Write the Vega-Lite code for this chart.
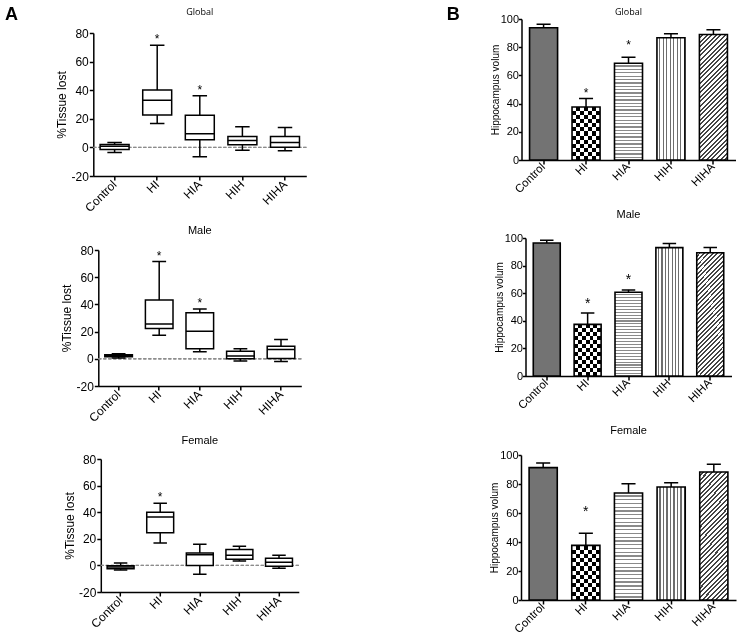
{
  "$schema": "https://vega.github.io/schema/vega-lite/v6.json",
  "background": "white",
  "padding": {"left": 4, "right": 4, "top": 6, "bottom": 2},
  "config": {
    "view": {"stroke": null},
    "font": "Liberation Sans",
    "axis": {"domainColor": "black", "tickColor": "black", "domainWidth": 1.5, "tickWidth": 1.5, "tickSize": 5, "labelColor": "black", "titleColor": "black", "labelFont": "Liberation Sans", "titleFont": "Liberation Sans", "titleFontWeight": "normal", "grid": false, "labelFontSize": 12, "labelOverlap": false},
    "axisY": {"tickSize": 3, "labelPadding": 0, "titlePadding": 0},
    "title": {"fontWeight": "normal", "font": "Liberation Sans", "fontSize": 11, "color": "black"}
  },
  "params": [
    {"name": "gHIv", "value": {"gradient": "linear", "x1": 0, "y1": 0, "x2": 1, "y2": 0, "stops": [
      {"offset": 0, "color": "#000"}, {"offset": 0.1429, "color": "#000"}, {"offset": 0.1429, "color": "#fff"}, {"offset": 0.2857, "color": "#fff"},
      {"offset": 0.2857, "color": "#000"}, {"offset": 0.4286, "color": "#000"}, {"offset": 0.4286, "color": "#fff"}, {"offset": 0.5714, "color": "#fff"},
      {"offset": 0.5714, "color": "#000"}, {"offset": 0.7143, "color": "#000"}, {"offset": 0.7143, "color": "#fff"}, {"offset": 0.8571, "color": "#fff"},
      {"offset": 0.8571, "color": "#000"}, {"offset": 1, "color": "#000"}]}},
    {"name": "gHIh", "value": {"gradient": "linear", "x1": 0, "y1": 0, "x2": 0, "y2": 1, "stops": [
      {"offset": 0, "color": "#fff"}, {"offset": 0.0769, "color": "#fff"}, {"offset": 0.0769, "color": "rgba(255,255,255,0)"}, {"offset": 0.1538, "color": "rgba(255,255,255,0)"},
      {"offset": 0.1538, "color": "#fff"}, {"offset": 0.2308, "color": "#fff"}, {"offset": 0.2308, "color": "rgba(255,255,255,0)"}, {"offset": 0.3077, "color": "rgba(255,255,255,0)"},
      {"offset": 0.3077, "color": "#fff"}, {"offset": 0.3846, "color": "#fff"}, {"offset": 0.3846, "color": "rgba(255,255,255,0)"}, {"offset": 0.4615, "color": "rgba(255,255,255,0)"},
      {"offset": 0.4615, "color": "#fff"}, {"offset": 0.5385, "color": "#fff"}, {"offset": 0.5385, "color": "rgba(255,255,255,0)"}, {"offset": 0.6154, "color": "rgba(255,255,255,0)"},
      {"offset": 0.6154, "color": "#fff"}, {"offset": 0.6923, "color": "#fff"}, {"offset": 0.6923, "color": "rgba(255,255,255,0)"}, {"offset": 0.7692, "color": "rgba(255,255,255,0)"},
      {"offset": 0.7692, "color": "#fff"}, {"offset": 0.8462, "color": "#fff"}, {"offset": 0.8462, "color": "rgba(255,255,255,0)"}, {"offset": 0.9231, "color": "rgba(255,255,255,0)"},
      {"offset": 0.9231, "color": "#fff"}, {"offset": 1, "color": "#fff"}]}},
    {"name": "gHIA", "value": {"gradient": "linear", "x1": 0, "y1": 0, "x2": 0, "y2": 1, "stops": [
      {"offset": 0, "color": "#fff"}, {"offset": 0.022, "color": "#fff"}, {"offset": 0.022, "color": "#8a8a8a"}, {"offset": 0.035, "color": "#8a8a8a"},
      {"offset": 0.035, "color": "#fff"}, {"offset": 0.057, "color": "#fff"}, {"offset": 0.057, "color": "#8a8a8a"}, {"offset": 0.07, "color": "#8a8a8a"},
      {"offset": 0.07, "color": "#fff"}, {"offset": 0.092, "color": "#fff"}, {"offset": 0.092, "color": "#8a8a8a"}, {"offset": 0.105, "color": "#8a8a8a"},
      {"offset": 0.105, "color": "#fff"}, {"offset": 0.127, "color": "#fff"}, {"offset": 0.127, "color": "#8a8a8a"}, {"offset": 0.14, "color": "#8a8a8a"},
      {"offset": 0.14, "color": "#fff"}, {"offset": 0.162, "color": "#fff"}, {"offset": 0.162, "color": "#8a8a8a"}, {"offset": 0.175, "color": "#8a8a8a"},
      {"offset": 0.175, "color": "#fff"}, {"offset": 0.197, "color": "#fff"}, {"offset": 0.197, "color": "#8a8a8a"}, {"offset": 0.21, "color": "#8a8a8a"},
      {"offset": 0.21, "color": "#fff"}, {"offset": 0.232, "color": "#fff"}, {"offset": 0.232, "color": "#8a8a8a"}, {"offset": 0.245, "color": "#8a8a8a"},
      {"offset": 0.245, "color": "#fff"}, {"offset": 0.267, "color": "#fff"}, {"offset": 0.267, "color": "#8a8a8a"}, {"offset": 0.28, "color": "#8a8a8a"},
      {"offset": 0.28, "color": "#fff"}, {"offset": 0.302, "color": "#fff"}, {"offset": 0.302, "color": "#8a8a8a"}, {"offset": 0.315, "color": "#8a8a8a"},
      {"offset": 0.315, "color": "#fff"}, {"offset": 0.337, "color": "#fff"}, {"offset": 0.337, "color": "#8a8a8a"}, {"offset": 0.35, "color": "#8a8a8a"},
      {"offset": 0.35, "color": "#fff"}, {"offset": 0.372, "color": "#fff"}, {"offset": 0.372, "color": "#8a8a8a"}, {"offset": 0.385, "color": "#8a8a8a"},
      {"offset": 0.385, "color": "#fff"}, {"offset": 0.407, "color": "#fff"}, {"offset": 0.407, "color": "#8a8a8a"}, {"offset": 0.42, "color": "#8a8a8a"},
      {"offset": 0.42, "color": "#fff"}, {"offset": 0.442, "color": "#fff"}, {"offset": 0.442, "color": "#8a8a8a"}, {"offset": 0.455, "color": "#8a8a8a"},
      {"offset": 0.455, "color": "#fff"}, {"offset": 0.477, "color": "#fff"}, {"offset": 0.477, "color": "#8a8a8a"}, {"offset": 0.49, "color": "#8a8a8a"},
      {"offset": 0.49, "color": "#fff"}, {"offset": 0.512, "color": "#fff"}, {"offset": 0.512, "color": "#8a8a8a"}, {"offset": 0.525, "color": "#8a8a8a"},
      {"offset": 0.525, "color": "#fff"}, {"offset": 0.547, "color": "#fff"}, {"offset": 0.547, "color": "#8a8a8a"}, {"offset": 0.56, "color": "#8a8a8a"},
      {"offset": 0.56, "color": "#fff"}, {"offset": 0.582, "color": "#fff"}, {"offset": 0.582, "color": "#8a8a8a"}, {"offset": 0.595, "color": "#8a8a8a"},
      {"offset": 0.595, "color": "#fff"}, {"offset": 0.617, "color": "#fff"}, {"offset": 0.617, "color": "#8a8a8a"}, {"offset": 0.63, "color": "#8a8a8a"},
      {"offset": 0.63, "color": "#fff"}, {"offset": 0.652, "color": "#fff"}, {"offset": 0.652, "color": "#8a8a8a"}, {"offset": 0.665, "color": "#8a8a8a"},
      {"offset": 0.665, "color": "#fff"}, {"offset": 0.687, "color": "#fff"}, {"offset": 0.687, "color": "#8a8a8a"}, {"offset": 0.7, "color": "#8a8a8a"},
      {"offset": 0.7, "color": "#fff"}, {"offset": 0.722, "color": "#fff"}, {"offset": 0.722, "color": "#8a8a8a"}, {"offset": 0.735, "color": "#8a8a8a"},
      {"offset": 0.735, "color": "#fff"}, {"offset": 0.757, "color": "#fff"}, {"offset": 0.757, "color": "#8a8a8a"}, {"offset": 0.77, "color": "#8a8a8a"},
      {"offset": 0.77, "color": "#fff"}, {"offset": 0.792, "color": "#fff"}, {"offset": 0.792, "color": "#8a8a8a"}, {"offset": 0.805, "color": "#8a8a8a"},
      {"offset": 0.805, "color": "#fff"}, {"offset": 0.827, "color": "#fff"}, {"offset": 0.827, "color": "#8a8a8a"}, {"offset": 0.84, "color": "#8a8a8a"},
      {"offset": 0.84, "color": "#fff"}, {"offset": 0.862, "color": "#fff"}, {"offset": 0.862, "color": "#8a8a8a"}, {"offset": 0.875, "color": "#8a8a8a"},
      {"offset": 0.875, "color": "#fff"}, {"offset": 0.897, "color": "#fff"}, {"offset": 0.897, "color": "#8a8a8a"}, {"offset": 0.91, "color": "#8a8a8a"},
      {"offset": 0.91, "color": "#fff"}, {"offset": 0.932, "color": "#fff"}, {"offset": 0.932, "color": "#8a8a8a"}, {"offset": 0.945, "color": "#8a8a8a"},
      {"offset": 0.945, "color": "#fff"}, {"offset": 0.967, "color": "#fff"}, {"offset": 0.967, "color": "#8a8a8a"}, {"offset": 0.98, "color": "#8a8a8a"},
      {"offset": 0.98, "color": "#fff"}, {"offset": 1, "color": "#fff"}]}},
    {"name": "gHIH", "value": {"gradient": "linear", "x1": 0, "y1": 0, "x2": 1, "y2": 0, "stops": [
      {"offset": 0, "color": "#fff"}, {"offset": 0.08, "color": "#fff"}, {"offset": 0.08, "color": "#6e6e6e"}, {"offset": 0.125, "color": "#6e6e6e"},
      {"offset": 0.125, "color": "#fff"}, {"offset": 0.205, "color": "#fff"}, {"offset": 0.205, "color": "#6e6e6e"}, {"offset": 0.25, "color": "#6e6e6e"},
      {"offset": 0.25, "color": "#fff"}, {"offset": 0.33, "color": "#fff"}, {"offset": 0.33, "color": "#6e6e6e"}, {"offset": 0.375, "color": "#6e6e6e"},
      {"offset": 0.375, "color": "#fff"}, {"offset": 0.455, "color": "#fff"}, {"offset": 0.455, "color": "#6e6e6e"}, {"offset": 0.5, "color": "#6e6e6e"},
      {"offset": 0.5, "color": "#fff"}, {"offset": 0.58, "color": "#fff"}, {"offset": 0.58, "color": "#6e6e6e"}, {"offset": 0.625, "color": "#6e6e6e"},
      {"offset": 0.625, "color": "#fff"}, {"offset": 0.705, "color": "#fff"}, {"offset": 0.705, "color": "#6e6e6e"}, {"offset": 0.75, "color": "#6e6e6e"},
      {"offset": 0.75, "color": "#fff"}, {"offset": 0.83, "color": "#fff"}, {"offset": 0.83, "color": "#6e6e6e"}, {"offset": 0.875, "color": "#6e6e6e"},
      {"offset": 0.875, "color": "#fff"}, {"offset": 0.955, "color": "#fff"}, {"offset": 0.955, "color": "#6e6e6e"}, {"offset": 1, "color": "#6e6e6e"}]}},
    {"name": "gHIHA", "value": {"gradient": "linear", "x1": 0, "y1": 0, "x2": 0.26, "y2": 1.164, "stops": [
      {"offset": 0, "color": "#fff"}, {"offset": 0.017, "color": "#fff"}, {"offset": 0.017, "color": "#444"}, {"offset": 0.03, "color": "#444"},
      {"offset": 0.03, "color": "#fff"}, {"offset": 0.047, "color": "#fff"}, {"offset": 0.047, "color": "#444"}, {"offset": 0.06, "color": "#444"},
      {"offset": 0.06, "color": "#fff"}, {"offset": 0.077, "color": "#fff"}, {"offset": 0.077, "color": "#444"}, {"offset": 0.09, "color": "#444"},
      {"offset": 0.09, "color": "#fff"}, {"offset": 0.107, "color": "#fff"}, {"offset": 0.107, "color": "#444"}, {"offset": 0.12, "color": "#444"},
      {"offset": 0.12, "color": "#fff"}, {"offset": 0.137, "color": "#fff"}, {"offset": 0.137, "color": "#444"}, {"offset": 0.15, "color": "#444"},
      {"offset": 0.15, "color": "#fff"}, {"offset": 0.167, "color": "#fff"}, {"offset": 0.167, "color": "#444"}, {"offset": 0.18, "color": "#444"},
      {"offset": 0.18, "color": "#fff"}, {"offset": 0.197, "color": "#fff"}, {"offset": 0.197, "color": "#444"}, {"offset": 0.21, "color": "#444"},
      {"offset": 0.21, "color": "#fff"}, {"offset": 0.227, "color": "#fff"}, {"offset": 0.227, "color": "#444"}, {"offset": 0.24, "color": "#444"},
      {"offset": 0.24, "color": "#fff"}, {"offset": 0.257, "color": "#fff"}, {"offset": 0.257, "color": "#444"}, {"offset": 0.27, "color": "#444"},
      {"offset": 0.27, "color": "#fff"}, {"offset": 0.287, "color": "#fff"}, {"offset": 0.287, "color": "#444"}, {"offset": 0.3, "color": "#444"},
      {"offset": 0.3, "color": "#fff"}, {"offset": 0.317, "color": "#fff"}, {"offset": 0.317, "color": "#444"}, {"offset": 0.33, "color": "#444"},
      {"offset": 0.33, "color": "#fff"}, {"offset": 0.347, "color": "#fff"}, {"offset": 0.347, "color": "#444"}, {"offset": 0.36, "color": "#444"},
      {"offset": 0.36, "color": "#fff"}, {"offset": 0.377, "color": "#fff"}, {"offset": 0.377, "color": "#444"}, {"offset": 0.39, "color": "#444"},
      {"offset": 0.39, "color": "#fff"}, {"offset": 0.407, "color": "#fff"}, {"offset": 0.407, "color": "#444"}, {"offset": 0.42, "color": "#444"},
      {"offset": 0.42, "color": "#fff"}, {"offset": 0.437, "color": "#fff"}, {"offset": 0.437, "color": "#444"}, {"offset": 0.45, "color": "#444"},
      {"offset": 0.45, "color": "#fff"}, {"offset": 0.467, "color": "#fff"}, {"offset": 0.467, "color": "#444"}, {"offset": 0.48, "color": "#444"},
      {"offset": 0.48, "color": "#fff"}, {"offset": 0.497, "color": "#fff"}, {"offset": 0.497, "color": "#444"}, {"offset": 0.51, "color": "#444"},
      {"offset": 0.51, "color": "#fff"}, {"offset": 0.527, "color": "#fff"}, {"offset": 0.527, "color": "#444"}, {"offset": 0.54, "color": "#444"},
      {"offset": 0.54, "color": "#fff"}, {"offset": 0.557, "color": "#fff"}, {"offset": 0.557, "color": "#444"}, {"offset": 0.57, "color": "#444"},
      {"offset": 0.57, "color": "#fff"}, {"offset": 0.587, "color": "#fff"}, {"offset": 0.587, "color": "#444"}, {"offset": 0.6, "color": "#444"},
      {"offset": 0.6, "color": "#fff"}, {"offset": 0.617, "color": "#fff"}, {"offset": 0.617, "color": "#444"}, {"offset": 0.63, "color": "#444"},
      {"offset": 0.63, "color": "#fff"}, {"offset": 0.647, "color": "#fff"}, {"offset": 0.647, "color": "#444"}, {"offset": 0.66, "color": "#444"},
      {"offset": 0.66, "color": "#fff"}, {"offset": 0.677, "color": "#fff"}, {"offset": 0.677, "color": "#444"}, {"offset": 0.69, "color": "#444"},
      {"offset": 0.69, "color": "#fff"}, {"offset": 0.707, "color": "#fff"}, {"offset": 0.707, "color": "#444"}, {"offset": 0.72, "color": "#444"},
      {"offset": 0.72, "color": "#fff"}, {"offset": 0.737, "color": "#fff"}, {"offset": 0.737, "color": "#444"}, {"offset": 0.75, "color": "#444"},
      {"offset": 0.75, "color": "#fff"}, {"offset": 0.767, "color": "#fff"}, {"offset": 0.767, "color": "#444"}, {"offset": 0.78, "color": "#444"},
      {"offset": 0.78, "color": "#fff"}, {"offset": 0.797, "color": "#fff"}, {"offset": 0.797, "color": "#444"}, {"offset": 0.81, "color": "#444"},
      {"offset": 0.81, "color": "#fff"}, {"offset": 0.827, "color": "#fff"}, {"offset": 0.827, "color": "#444"}, {"offset": 0.84, "color": "#444"},
      {"offset": 0.84, "color": "#fff"}, {"offset": 0.857, "color": "#fff"}, {"offset": 0.857, "color": "#444"}, {"offset": 0.87, "color": "#444"},
      {"offset": 0.87, "color": "#fff"}, {"offset": 0.887, "color": "#fff"}, {"offset": 0.887, "color": "#444"}, {"offset": 0.9, "color": "#444"},
      {"offset": 0.9, "color": "#fff"}, {"offset": 0.917, "color": "#fff"}, {"offset": 0.917, "color": "#444"}, {"offset": 0.93, "color": "#444"},
      {"offset": 0.93, "color": "#fff"}, {"offset": 0.947, "color": "#fff"}, {"offset": 0.947, "color": "#444"}, {"offset": 0.96, "color": "#444"},
      {"offset": 0.96, "color": "#fff"}, {"offset": 0.977, "color": "#fff"}, {"offset": 0.977, "color": "#444"}, {"offset": 0.99, "color": "#444"},
      {"offset": 0.99, "color": "#fff"}, {"offset": 1, "color": "#fff"}]}}
  ],
  "datasets": {
    "tissue": [
      {"sex": "Global", "group": "Control", "min": -3.5, "q1": -1.5, "median": 0.8, "q3": 2.0, "max": 3.4, "sig": false},
      {"sex": "Global", "group": "HI", "min": 16.8, "q1": 22.6, "median": 32.9, "q3": 40.1, "max": 71.5, "sig": true},
      {"sex": "Global", "group": "HIA", "min": -6.6, "q1": 5.3, "median": 9.5, "q3": 22.4, "max": 36.2, "sig": true},
      {"sex": "Global", "group": "HIH", "min": -2.0, "q1": 1.8, "median": 4.8, "q3": 7.6, "max": 14.4, "sig": false},
      {"sex": "Global", "group": "HIHA", "min": -2.4, "q1": 0.1, "median": 3.4, "q3": 7.6, "max": 14.0, "sig": false},
      {"sex": "Male", "group": "Control", "min": 0.5, "q1": 1.5, "median": 2.2, "q3": 3.0, "max": 3.8, "sig": false},
      {"sex": "Male", "group": "HI", "min": 17.3, "q1": 22.2, "median": 25.6, "q3": 43.2, "max": 71.5, "sig": true},
      {"sex": "Male", "group": "HIA", "min": 5.1, "q1": 7.3, "median": 20.2, "q3": 33.9, "max": 36.6, "sig": true},
      {"sex": "Male", "group": "HIH", "min": -1.7, "q1": 0.0, "median": 2.0, "q3": 5.6, "max": 7.3, "sig": false},
      {"sex": "Male", "group": "HIHA", "min": -2.0, "q1": 0.2, "median": 6.8, "q3": 9.3, "max": 14.1, "sig": false},
      {"sex": "Female", "group": "Control", "min": -3.5, "q1": -2.5, "median": -1.2, "q3": -0.2, "max": 1.8, "sig": false},
      {"sex": "Female", "group": "HI", "min": 16.9, "q1": 24.5, "median": 36.3, "q3": 40.0, "max": 46.8, "sig": true},
      {"sex": "Female", "group": "HIA", "min": -6.7, "q1": 0.0, "median": 8.1, "q3": 9.4, "max": 15.9, "sig": false},
      {"sex": "Female", "group": "HIH", "min": 3.4, "q1": 4.6, "median": 7.6, "q3": 11.9, "max": 14.4, "sig": false},
      {"sex": "Female", "group": "HIHA", "min": -2.2, "q1": -0.6, "median": 2.4, "q3": 5.4, "max": 7.6, "sig": false}
    ],
    "volume": [
      {"sex": "Global", "group": "Control", "mean": 93.8, "upper": 96.2, "star": null},
      {"sex": "Global", "group": "HI", "mean": 37.6, "upper": 43.6, "star": 49.5},
      {"sex": "Global", "group": "HIA", "mean": 68.6, "upper": 72.9, "star": 83.8},
      {"sex": "Global", "group": "HIH", "mean": 86.7, "upper": 89.5, "star": null},
      {"sex": "Global", "group": "HIHA", "mean": 89.0, "upper": 92.4, "star": null},
      {"sex": "Male", "group": "Control", "mean": 96.4, "upper": 98.3, "star": null},
      {"sex": "Male", "group": "HI", "mean": 37.4, "upper": 45.6, "star": 54.6},
      {"sex": "Male", "group": "HIA", "mean": 60.7, "upper": 62.4, "star": 71.4},
      {"sex": "Male", "group": "HIH", "mean": 93.0, "upper": 96.1, "star": null},
      {"sex": "Male", "group": "HIHA", "mean": 89.3, "upper": 93.2, "star": null},
      {"sex": "Female", "group": "Control", "mean": 91.3, "upper": 94.5, "star": null},
      {"sex": "Female", "group": "HI", "mean": 37.7, "upper": 46.0, "star": 62.5},
      {"sex": "Female", "group": "HIA", "mean": 73.8, "upper": 80.2, "star": null},
      {"sex": "Female", "group": "HIH", "mean": 77.9, "upper": 80.9, "star": null},
      {"sex": "Female", "group": "HIHA", "mean": 88.3, "upper": 93.6, "star": null}
    ]
  },
  "spacing": 139,
  "hconcat": [
    {
      "title": {"text": "A", "anchor": "start", "fontSize": 18, "fontWeight": "bold", "offset": -16, "dx": -51},
      "spacing": 11,
      "center": true,
      "vconcat": [
        {
          "title": {"text": "Global", "fontSize": 9, "font": "Open Sans", "offset": 2},
          "width": 213, "height": 157,
          "data": {"name": "tissue"},
          "transform": [{"filter": "datum.sex === 'Global'"}],
          "layer": [
            {"mark": {"type": "rule", "strokeDash": [3, 2], "color": "#8c8c8c", "strokeWidth": 0.8}, "encoding": {"y": {"datum": 0, "type": "quantitative", "scale": {"domain": [-20, 80], "nice": false, "rangeMax": 14}, "axis": {"title": "%Tissue lost", "titleFontSize": 12, "values": [-20, 0, 20, 40, 60, 80], "tickCount": 6, "labelExpr": "datum.value", "labelFontSize": 12, "labelOverlap": false, "tickSize": 4, "labelPadding": 1, "titlePadding": 2}}}},
            {"mark": {"type": "rule", "color": "black", "strokeWidth": 1.5}, "encoding": {"x": {"field": "group", "type": "nominal", "sort": ["Control", "HI", "HIA", "HIH", "HIHA"], "scale": {"paddingInner": 0.32, "paddingOuter": 0.16}, "axis": {"title": null, "labelAngle": -45, "labelAlign": "right", "labelBaseline": "middle", "labelPadding": 2, "tickSize": 4}}, "y": {"field": "min", "type": "quantitative", "axis": {"title": "%Tissue lost", "titleFontSize": 12, "values": [-20, 0, 20, 40, 60, 80], "tickCount": 6, "labelExpr": "datum.value", "labelFontSize": 12, "labelOverlap": false, "tickSize": 4, "labelPadding": 1, "titlePadding": 2}}, "y2": {"field": "max"}}},
            {"mark": {"type": "bar", "fill": "white", "stroke": "black", "strokeWidth": 1.5}, "encoding": {"x": {"field": "group", "type": "nominal", "sort": ["Control", "HI", "HIA", "HIH", "HIHA"]}, "y": {"field": "q1", "type": "quantitative"}, "y2": {"field": "q3"}}},
            {"mark": {"type": "bar", "fillOpacity": 0, "stroke": "black", "strokeWidth": 1.5}, "encoding": {"x": {"field": "group", "type": "nominal", "sort": ["Control", "HI", "HIA", "HIH", "HIHA"]}, "y": {"field": "median", "type": "quantitative"}, "y2": {"field": "median"}}},
            {"mark": {"type": "bar", "fillOpacity": 0, "stroke": "black", "strokeWidth": 1.5, "width": {"band": 0.5}}, "encoding": {"x": {"field": "group", "type": "nominal", "sort": ["Control", "HI", "HIA", "HIH", "HIHA"]}, "y": {"field": "max", "type": "quantitative"}, "y2": {"field": "max"}}},
            {"mark": {"type": "bar", "fillOpacity": 0, "stroke": "black", "strokeWidth": 1.5, "width": {"band": 0.5}}, "encoding": {"x": {"field": "group", "type": "nominal", "sort": ["Control", "HI", "HIA", "HIH", "HIHA"]}, "y": {"field": "min", "type": "quantitative"}, "y2": {"field": "min"}}},
            {"transform": [{"filter": "datum.sig"}], "mark": {"type": "text", "text": "*", "fontSize": 12, "baseline": "middle", "dy": -6, "color": "black"}, "encoding": {"x": {"field": "group", "type": "nominal", "sort": ["Control", "HI", "HIA", "HIH", "HIHA"]}, "y": {"field": "max", "type": "quantitative"}}}
          ]
        },
        {
          "title": {"text": "Male", "fontSize": 11, "offset": 8},
          "width": 203, "height": 136,
          "data": {"name": "tissue"},
          "transform": [{"filter": "datum.sex === 'Male'"}],
          "layer": [
            {"mark": {"type": "rule", "strokeDash": [3, 2], "color": "#8c8c8c", "strokeWidth": 0.8}, "encoding": {"y": {"datum": 0, "type": "quantitative", "scale": {"domain": [-20, 80], "nice": false}, "axis": {"title": "%Tissue lost", "titleFontSize": 12, "values": [-20, 0, 20, 40, 60, 80], "tickCount": 6, "labelExpr": "datum.value", "labelFontSize": 12, "labelOverlap": false, "tickSize": 4, "labelPadding": 1, "titlePadding": 2}}}},
            {"mark": {"type": "rule", "color": "black", "strokeWidth": 1.5}, "encoding": {"x": {"field": "group", "type": "nominal", "sort": ["Control", "HI", "HIA", "HIH", "HIHA"], "scale": {"paddingInner": 0.32, "paddingOuter": 0.16}, "axis": {"title": null, "labelAngle": -45, "labelAlign": "right", "labelBaseline": "middle", "labelPadding": 2, "tickSize": 4}}, "y": {"field": "min", "type": "quantitative", "axis": {"title": "%Tissue lost", "titleFontSize": 12, "values": [-20, 0, 20, 40, 60, 80], "tickCount": 6, "labelExpr": "datum.value", "labelFontSize": 12, "labelOverlap": false, "tickSize": 4, "labelPadding": 1, "titlePadding": 2}}, "y2": {"field": "max"}}},
            {"mark": {"type": "bar", "fill": "white", "stroke": "black", "strokeWidth": 1.5}, "encoding": {"x": {"field": "group", "type": "nominal", "sort": ["Control", "HI", "HIA", "HIH", "HIHA"]}, "y": {"field": "q1", "type": "quantitative"}, "y2": {"field": "q3"}}},
            {"mark": {"type": "bar", "fillOpacity": 0, "stroke": "black", "strokeWidth": 1.5}, "encoding": {"x": {"field": "group", "type": "nominal", "sort": ["Control", "HI", "HIA", "HIH", "HIHA"]}, "y": {"field": "median", "type": "quantitative"}, "y2": {"field": "median"}}},
            {"mark": {"type": "bar", "fillOpacity": 0, "stroke": "black", "strokeWidth": 1.5, "width": {"band": 0.5}}, "encoding": {"x": {"field": "group", "type": "nominal", "sort": ["Control", "HI", "HIA", "HIH", "HIHA"]}, "y": {"field": "max", "type": "quantitative"}, "y2": {"field": "max"}}},
            {"mark": {"type": "bar", "fillOpacity": 0, "stroke": "black", "strokeWidth": 1.5, "width": {"band": 0.5}}, "encoding": {"x": {"field": "group", "type": "nominal", "sort": ["Control", "HI", "HIA", "HIH", "HIHA"]}, "y": {"field": "min", "type": "quantitative"}, "y2": {"field": "min"}}},
            {"transform": [{"filter": "datum.sig"}], "mark": {"type": "text", "text": "*", "fontSize": 12, "baseline": "middle", "dy": -6, "color": "black"}, "encoding": {"x": {"field": "group", "type": "nominal", "sort": ["Control", "HI", "HIA", "HIH", "HIHA"]}, "y": {"field": "max", "type": "quantitative"}}}
          ]
        },
        {
          "title": {"text": "Female", "fontSize": 11, "offset": 7},
          "width": 198, "height": 133,
          "data": {"name": "tissue"},
          "transform": [{"filter": "datum.sex === 'Female'"}],
          "layer": [
            {"mark": {"type": "rule", "strokeDash": [3, 2], "color": "#8c8c8c", "strokeWidth": 0.8}, "encoding": {"y": {"datum": 0, "type": "quantitative", "scale": {"domain": [-20, 80], "nice": false}, "axis": {"title": "%Tissue lost", "titleFontSize": 12, "values": [-20, 0, 20, 40, 60, 80], "tickCount": 6, "labelExpr": "datum.value", "labelFontSize": 12, "labelOverlap": false, "tickSize": 4, "labelPadding": 1, "titlePadding": 2}}}},
            {"mark": {"type": "rule", "color": "black", "strokeWidth": 1.5}, "encoding": {"x": {"field": "group", "type": "nominal", "sort": ["Control", "HI", "HIA", "HIH", "HIHA"], "scale": {"paddingInner": 0.32, "paddingOuter": 0.16}, "axis": {"title": null, "labelAngle": -45, "labelAlign": "right", "labelBaseline": "middle", "labelPadding": 2, "tickSize": 4}}, "y": {"field": "min", "type": "quantitative", "axis": {"title": "%Tissue lost", "titleFontSize": 12, "values": [-20, 0, 20, 40, 60, 80], "tickCount": 6, "labelExpr": "datum.value", "labelFontSize": 12, "labelOverlap": false, "tickSize": 4, "labelPadding": 1, "titlePadding": 2}}, "y2": {"field": "max"}}},
            {"mark": {"type": "bar", "fill": "white", "stroke": "black", "strokeWidth": 1.5}, "encoding": {"x": {"field": "group", "type": "nominal", "sort": ["Control", "HI", "HIA", "HIH", "HIHA"]}, "y": {"field": "q1", "type": "quantitative"}, "y2": {"field": "q3"}}},
            {"mark": {"type": "bar", "fillOpacity": 0, "stroke": "black", "strokeWidth": 1.5}, "encoding": {"x": {"field": "group", "type": "nominal", "sort": ["Control", "HI", "HIA", "HIH", "HIHA"]}, "y": {"field": "median", "type": "quantitative"}, "y2": {"field": "median"}}},
            {"mark": {"type": "bar", "fillOpacity": 0, "stroke": "black", "strokeWidth": 1.5, "width": {"band": 0.5}}, "encoding": {"x": {"field": "group", "type": "nominal", "sort": ["Control", "HI", "HIA", "HIH", "HIHA"]}, "y": {"field": "max", "type": "quantitative"}, "y2": {"field": "max"}}},
            {"mark": {"type": "bar", "fillOpacity": 0, "stroke": "black", "strokeWidth": 1.5, "width": {"band": 0.5}}, "encoding": {"x": {"field": "group", "type": "nominal", "sort": ["Control", "HI", "HIA", "HIH", "HIHA"]}, "y": {"field": "min", "type": "quantitative"}, "y2": {"field": "min"}}},
            {"transform": [{"filter": "datum.sig"}], "mark": {"type": "text", "text": "*", "fontSize": 12, "baseline": "middle", "dy": -6, "color": "black"}, "encoding": {"x": {"field": "group", "type": "nominal", "sort": ["Control", "HI", "HIA", "HIH", "HIHA"]}, "y": {"field": "max", "type": "quantitative"}}}
          ]
        }
      ]
    },
    {
      "title": {"text": "B", "anchor": "start", "fontSize": 18, "fontWeight": "bold", "offset": -16, "dx": -43},
      "spacing": 13,
      "center": true,
      "vconcat": [
        {
          "title": {"text": "Global", "fontSize": 9, "font": "Open Sans", "offset": -4},
          "width": 214, "height": 141,
          "data": {"name": "volume"},
          "transform": [{"filter": "datum.sex === 'Global'"}],
          "encoding": {"x": {"field": "group", "type": "nominal", "sort": ["Control", "HI", "HIA", "HIH", "HIHA"], "scale": {"paddingInner": 0.34, "paddingOuter": 0.19}, "axis": {"title": null, "labelAngle": -45, "labelAlign": "right", "labelBaseline": "middle", "labelPadding": 1, "tickSize": 4, "labelFontSize": 11.5}}},
          "layer": [
            {"mark": {"type": "bar", "strokeWidth": 0}, "encoding": {"y": {"field": "mean", "type": "quantitative", "scale": {"domain": [0, 100], "nice": false}, "axis": {"title": "Hippocampus volum", "titleFontSize": 10, "values": [0, 20, 40, 60, 80, 100], "tickCount": 6, "labelFontSize": 11, "labelOverlap": false, "tickSize": 3, "labelPadding": 0, "titlePadding": 0}}, "fill": {"value": {"expr": "datum.group === 'Control' ? '#737373' : datum.group === 'HI' ? gHIv : datum.group === 'HIA' ? gHIA : datum.group === 'HIH' ? gHIH : gHIHA"}}}},
            {"transform": [{"filter": "datum.group === 'HI'"}], "mark": {"type": "bar", "strokeWidth": 0, "fill": {"expr": "gHIh"}, "blend": "difference"}, "encoding": {"y": {"field": "mean", "type": "quantitative", "axis": {"title": "Hippocampus volum", "titleFontSize": 10, "values": [0, 20, 40, 60, 80, 100], "tickCount": 6, "labelFontSize": 11, "labelOverlap": false, "tickSize": 3, "labelPadding": 0, "titlePadding": 0}}}},
            {"mark": {"type": "bar", "fillOpacity": 0, "stroke": "black", "strokeWidth": 1.6}, "encoding": {"y": {"field": "mean", "type": "quantitative", "axis": {"title": "Hippocampus volum", "titleFontSize": 10, "values": [0, 20, 40, 60, 80, 100], "tickCount": 6, "labelFontSize": 11, "labelOverlap": false, "tickSize": 3, "labelPadding": 0, "titlePadding": 0}}}},
            {"mark": {"type": "rule", "color": "black", "strokeWidth": 1.5}, "encoding": {"y": {"field": "mean", "type": "quantitative", "axis": {"title": "Hippocampus volum", "titleFontSize": 10, "values": [0, 20, 40, 60, 80, 100], "tickCount": 6, "labelFontSize": 11, "labelOverlap": false, "tickSize": 3, "labelPadding": 0, "titlePadding": 0}}, "y2": {"field": "upper"}}},
            {"mark": {"type": "bar", "fillOpacity": 0, "stroke": "black", "strokeWidth": 1.5, "width": {"band": 0.5}}, "encoding": {"y": {"field": "upper", "type": "quantitative", "axis": {"title": "Hippocampus volum", "titleFontSize": 10, "values": [0, 20, 40, 60, 80, 100], "tickCount": 6, "labelFontSize": 11, "labelOverlap": false, "tickSize": 3, "labelPadding": 0, "titlePadding": 0}}, "y2": {"field": "upper"}}},
            {"transform": [{"filter": "datum.star != null"}], "mark": {"type": "text", "text": "*", "fontSize": 12, "baseline": "middle", "dy": 3, "color": "black"}, "encoding": {"y": {"field": "star", "type": "quantitative", "axis": {"title": "Hippocampus volum", "titleFontSize": 10, "values": [0, 20, 40, 60, 80, 100], "tickCount": 6, "labelFontSize": 11, "labelOverlap": false, "tickSize": 3, "labelPadding": 0, "titlePadding": 0}}}}
          ]
        },
        {
          "title": {"text": "Male", "fontSize": 11, "offset": 12},
          "width": 206, "height": 138,
          "data": {"name": "volume"},
          "transform": [{"filter": "datum.sex === 'Male'"}],
          "encoding": {"x": {"field": "group", "type": "nominal", "sort": ["Control", "HI", "HIA", "HIH", "HIHA"], "scale": {"paddingInner": 0.34, "paddingOuter": 0.19}, "axis": {"title": null, "labelAngle": -45, "labelAlign": "right", "labelBaseline": "middle", "labelPadding": 1, "tickSize": 4, "labelFontSize": 11.5}}},
          "layer": [
            {"mark": {"type": "bar", "strokeWidth": 0}, "encoding": {"y": {"field": "mean", "type": "quantitative", "scale": {"domain": [0, 100], "nice": false}, "axis": {"title": "Hippocampus volum", "titleFontSize": 10, "values": [0, 20, 40, 60, 80, 100], "tickCount": 6, "labelFontSize": 11, "labelOverlap": false, "tickSize": 3, "labelPadding": 0, "titlePadding": 0}}, "fill": {"value": {"expr": "datum.group === 'Control' ? '#737373' : datum.group === 'HI' ? gHIv : datum.group === 'HIA' ? gHIA : datum.group === 'HIH' ? gHIH : gHIHA"}}}},
            {"transform": [{"filter": "datum.group === 'HI'"}], "mark": {"type": "bar", "strokeWidth": 0, "fill": {"expr": "gHIh"}, "blend": "difference"}, "encoding": {"y": {"field": "mean", "type": "quantitative", "axis": {"title": "Hippocampus volum", "titleFontSize": 10, "values": [0, 20, 40, 60, 80, 100], "tickCount": 6, "labelFontSize": 11, "labelOverlap": false, "tickSize": 3, "labelPadding": 0, "titlePadding": 0}}}},
            {"mark": {"type": "bar", "fillOpacity": 0, "stroke": "black", "strokeWidth": 1.6}, "encoding": {"y": {"field": "mean", "type": "quantitative", "axis": {"title": "Hippocampus volum", "titleFontSize": 10, "values": [0, 20, 40, 60, 80, 100], "tickCount": 6, "labelFontSize": 11, "labelOverlap": false, "tickSize": 3, "labelPadding": 0, "titlePadding": 0}}}},
            {"mark": {"type": "rule", "color": "black", "strokeWidth": 1.5}, "encoding": {"y": {"field": "mean", "type": "quantitative", "axis": {"title": "Hippocampus volum", "titleFontSize": 10, "values": [0, 20, 40, 60, 80, 100], "tickCount": 6, "labelFontSize": 11, "labelOverlap": false, "tickSize": 3, "labelPadding": 0, "titlePadding": 0}}, "y2": {"field": "upper"}}},
            {"mark": {"type": "bar", "fillOpacity": 0, "stroke": "black", "strokeWidth": 1.5, "width": {"band": 0.5}}, "encoding": {"y": {"field": "upper", "type": "quantitative", "axis": {"title": "Hippocampus volum", "titleFontSize": 10, "values": [0, 20, 40, 60, 80, 100], "tickCount": 6, "labelFontSize": 11, "labelOverlap": false, "tickSize": 3, "labelPadding": 0, "titlePadding": 0}}, "y2": {"field": "upper"}}},
            {"transform": [{"filter": "datum.star != null"}], "mark": {"type": "text", "text": "*", "fontSize": 14, "baseline": "middle", "dy": 3, "color": "black"}, "encoding": {"y": {"field": "star", "type": "quantitative", "axis": {"title": "Hippocampus volum", "titleFontSize": 10, "values": [0, 20, 40, 60, 80, 100], "tickCount": 6, "labelFontSize": 11, "labelOverlap": false, "tickSize": 3, "labelPadding": 0, "titlePadding": 0}}}}
          ]
        },
        {
          "title": {"text": "Female", "fontSize": 11, "offset": 13},
          "width": 215, "height": 145,
          "data": {"name": "volume"},
          "transform": [{"filter": "datum.sex === 'Female'"}],
          "encoding": {"x": {"field": "group", "type": "nominal", "sort": ["Control", "HI", "HIA", "HIH", "HIHA"], "scale": {"paddingInner": 0.34, "paddingOuter": 0.19}, "axis": {"title": null, "labelAngle": -45, "labelAlign": "right", "labelBaseline": "middle", "labelPadding": 1, "tickSize": 4, "labelFontSize": 11.5}}},
          "layer": [
            {"mark": {"type": "bar", "strokeWidth": 0}, "encoding": {"y": {"field": "mean", "type": "quantitative", "scale": {"domain": [0, 100], "nice": false}, "axis": {"title": "Hippocampus volum", "titleFontSize": 10, "values": [0, 20, 40, 60, 80, 100], "tickCount": 6, "labelFontSize": 11, "labelOverlap": false, "tickSize": 3, "labelPadding": 0, "titlePadding": 0}}, "fill": {"value": {"expr": "datum.group === 'Control' ? '#737373' : datum.group === 'HI' ? gHIv : datum.group === 'HIA' ? gHIA : datum.group === 'HIH' ? gHIH : gHIHA"}}}},
            {"transform": [{"filter": "datum.group === 'HI'"}], "mark": {"type": "bar", "strokeWidth": 0, "fill": {"expr": "gHIh"}, "blend": "difference"}, "encoding": {"y": {"field": "mean", "type": "quantitative", "axis": {"title": "Hippocampus volum", "titleFontSize": 10, "values": [0, 20, 40, 60, 80, 100], "tickCount": 6, "labelFontSize": 11, "labelOverlap": false, "tickSize": 3, "labelPadding": 0, "titlePadding": 0}}}},
            {"mark": {"type": "bar", "fillOpacity": 0, "stroke": "black", "strokeWidth": 1.6}, "encoding": {"y": {"field": "mean", "type": "quantitative", "axis": {"title": "Hippocampus volum", "titleFontSize": 10, "values": [0, 20, 40, 60, 80, 100], "tickCount": 6, "labelFontSize": 11, "labelOverlap": false, "tickSize": 3, "labelPadding": 0, "titlePadding": 0}}}},
            {"mark": {"type": "rule", "color": "black", "strokeWidth": 1.5}, "encoding": {"y": {"field": "mean", "type": "quantitative", "axis": {"title": "Hippocampus volum", "titleFontSize": 10, "values": [0, 20, 40, 60, 80, 100], "tickCount": 6, "labelFontSize": 11, "labelOverlap": false, "tickSize": 3, "labelPadding": 0, "titlePadding": 0}}, "y2": {"field": "upper"}}},
            {"mark": {"type": "bar", "fillOpacity": 0, "stroke": "black", "strokeWidth": 1.5, "width": {"band": 0.5}}, "encoding": {"y": {"field": "upper", "type": "quantitative", "axis": {"title": "Hippocampus volum", "titleFontSize": 10, "values": [0, 20, 40, 60, 80, 100], "tickCount": 6, "labelFontSize": 11, "labelOverlap": false, "tickSize": 3, "labelPadding": 0, "titlePadding": 0}}, "y2": {"field": "upper"}}},
            {"transform": [{"filter": "datum.star != null"}], "mark": {"type": "text", "text": "*", "fontSize": 14, "baseline": "middle", "dy": 3, "color": "black"}, "encoding": {"y": {"field": "star", "type": "quantitative", "axis": {"title": "Hippocampus volum", "titleFontSize": 10, "values": [0, 20, 40, 60, 80, 100], "tickCount": 6, "labelFontSize": 11, "labelOverlap": false, "tickSize": 3, "labelPadding": 0, "titlePadding": 0}}}}
          ]
        }
      ]
    }
  ]
}
